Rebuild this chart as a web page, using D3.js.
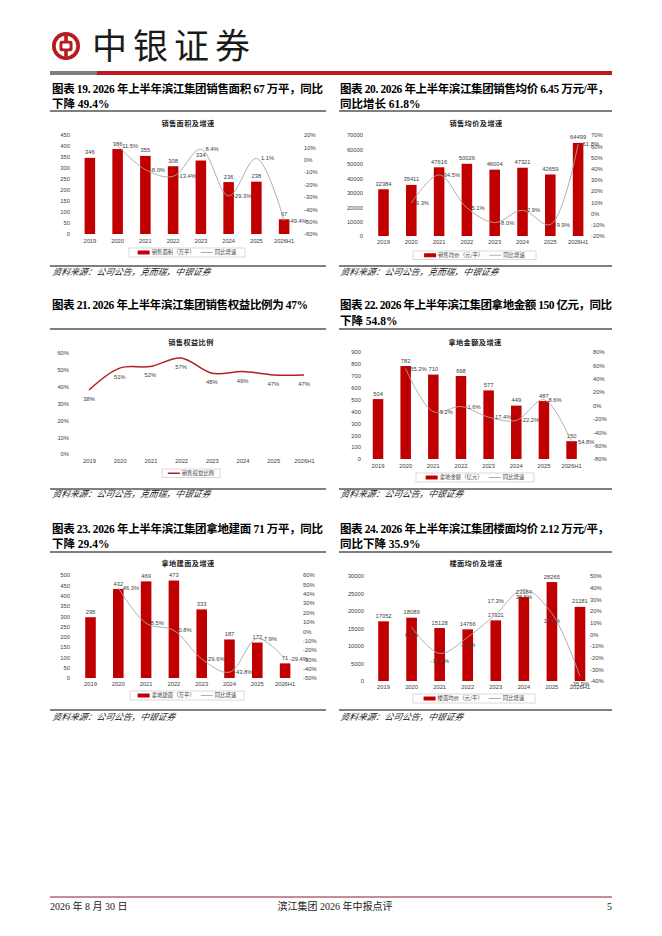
<!DOCTYPE html>
<html><head><meta charset="utf-8">
<script src="https://cdn.jsdelivr.net/npm/d3@7"></script>
<style>body{margin:0;background:#fff}</style>
</head><body><svg id="c" width="662" height="936"></svg>
<script>
// ---------------- DATA ----------------
const years = ["2019","2020","2021","2022","2023","2024","2025","2026H1"];

const salesArea      = [346, 386, 355, 308, 334, 236, 238, 67];
const salesAreaYoY   = [null, 11.5, -8.0, -13.4, 8.4, -29.3, 1.1, -49.4];
const salesPrice     = [32384, 35411, 47616, 50026, 46004, 47321, 42659, 64499];
const salesPriceYoY  = [null, 9.3, 34.5, 5.1, -8.0, 2.9, -9.9, 61.8];
const equityRatio    = [38, 51, 52, 57, 48, 49, 47, 47];
const landAmount     = [504, 782, 710, 698, 577, 449, 487, 150];
const landAmountYoY  = [null, 55.2, -9.2, -1.6, -17.4, -22.2, 8.6, -54.8];
const landArea       = [295, 432, 469, 473, 333, 187, 172, 71];
const landAreaYoY    = [null, 46.3, 8.5, 0.8, -29.6, -43.8, -7.9, -29.4];
const floorPrice     = [17052, 18089, 15128, 14766, 17321, 23984, 28265, 21181];
const floorPriceYoY  = [null, 6.1, -16.4, -2.4, 17.3, 38.5, 17.9, -35.9];

const ticks19L = [0,50,100,150,200,250,300,350,400,450];
const ticks19R = [-60,-50,-40,-30,-20,-10,0,10,20];
const ticks20L = [0,10000,20000,30000,40000,50000,60000,70000];
const ticks20R = [-20,-10,0,10,20,30,40,50,60,70];
const ticks21L = [0,10,20,30,40,50,60];
const ticks22L = [0,100,200,300,400,500,600,700,800,900];
const ticks22R = [-80,-60,-40,-20,0,20,40,60,80];
const ticks23L = [0,50,100,150,200,250,300,350,400,450,500];
const ticks23R = [-50,-40,-30,-20,-10,0,10,20,30,40,50,60];
const ticks24L = [0,5000,10000,15000,20000,25000,30000];
const ticks24R = [-40,-30,-20,-10,0,10,20,30,40,50];

const titles19 = ["图表 19. 2026 年上半年滨江集团销售面积 67 万平，同比", "下降 49.4%"];
const titles20 = ["图表 20. 2026 年上半年滨江集团销售均价 6.45 万元/平，", "同比增长 61.8%"];
const titles21 = ["图表 21. 2026 年上半年滨江集团销售权益比例为 47%"];
const titles22 = ["图表 22. 2026 年上半年滨江集团拿地金额 150 亿元，同比", "下降 54.8%"];
const titles23 = ["图表 23. 2026 年上半年滨江集团拿地建面 71 万平，同比", "下降 29.4%"];
const titles24 = ["图表 24. 2026 年上半年滨江集团楼面均价 2.12 万元/平，", "同比下降 35.9%"];
const src1 = "资料来源：公司公告，克而瑞，中银证券";
const src2 = "资料来源：公司公告，中银证券";

// ---------------- STYLE ----------------
const RED = "#C00000";
const GRAYLINE = "#A6A6A6";
const LBL = "#404040";
const SANS = "'Liberation Sans', Arial, 'Noto Sans CJK SC', sans-serif";
const SERIF = "'Liberation Serif', 'Times New Roman', 'Noto Sans CJK SC', serif";
const CJK = "'Noto Sans CJK SC', sans-serif";

const svg = d3.select("#c");
svg.append("rect").attr("width", 662).attr("height", 936).attr("fill", "#fff");

// ---------------- HEADER ----------------
const logo = svg.append("g").attr("transform", "translate(66,46)");
logo.append("circle").attr("r", 14).attr("fill", "#B81C22");
logo.append("circle").attr("r", 10.3).attr("fill", "#fff");
logo.append("rect").attr("x", -1.8).attr("y", -10.5).attr("width", 3.6).attr("height", 21).attr("fill", "#B81C22");
logo.append("rect").attr("x", -6.5).attr("y", -5.2).attr("width", 13).attr("height", 10.4).attr("rx", 2.2).attr("fill", "#B81C22");
logo.append("rect").attr("x", -3.6).attr("y", -2.4).attr("width", 7.2).attr("height", 4.8).attr("rx", 0.8).attr("fill", "#fff");
svg.append("text").attr("x", 92).attr("y", 59).attr("font-family", CJK).attr("font-size", 35)
  .attr("letter-spacing", 6).attr("fill", "#1a1a1a").text("中银证券");
svg.append("rect").attr("x", 50).attr("y", 71).attr("width", 47).attr("height", 4).attr("fill", "#7f7f7f");
svg.append("rect").attr("x", 97).attr("y", 71).attr("width", 515).attr("height", 4).attr("fill", "#B81C22");

// ---------------- FOOTER ----------------
svg.append("line").attr("x1", 50).attr("x2", 612).attr("y1", 897).attr("y2", 897)
  .attr("stroke", "#8B1A2B").attr("stroke-width", 1);
const ft = (x, anchor, t) => svg.append("text").attr("x", x).attr("y", 910).attr("text-anchor", anchor)
  .attr("font-family", SERIF).attr("font-size", 10).attr("fill", "#222").text(t);
ft(50, "start", "2026 年 8 月 30 日");
ft(335, "middle", "滨江集团 2026 年中报点评");
ft(612, "end", "5");

// ---------------- PANEL FRAME ----------------
function frame(p) {
  p.lines.forEach((t, i) => {
    const el = svg.append("text").attr("x", p.tx).attr("y", p.ty[i])
      .attr("font-family", SERIF).attr("font-size", 11.5).attr("font-weight", "bold").attr("fill", "#000").text(t);
    if (i === 0 && p.tl) el.attr("textLength", p.tl).attr("lengthAdjust", "spacing");
  });
  svg.append("line").attr("x1", p.x0).attr("x2", p.x1).attr("y1", p.sepTop).attr("y2", p.sepTop)
    .attr("stroke", "#000").attr("stroke-width", 1.2);
  svg.append("line").attr("x1", p.x0).attr("x2", p.x1).attr("y1", p.sepBot).attr("y2", p.sepBot)
    .attr("stroke", "#000").attr("stroke-width", 1);
  svg.append("text").attr("x", p.tx).attr("y", p.srcY).attr("font-family", CJK).attr("font-style", "italic")
    .attr("font-size", 8.8).attr("fill", "#222").attr("transform", null).text(p.src)
    .attr("transform", `skewX(-12) translate(${p.srcY * Math.tan(12 * Math.PI / 180)},0)`);
}

// ---------------- LEGEND ----------------
function legend(cfg, items) {
  const g = svg.append("g");
  g.append("rect").attr("x", cfg.x).attr("y", cfg.y).attr("width", cfg.w).attr("height", cfg.h)
    .attr("fill", "#fff").attr("stroke", "#BFBFBF").attr("stroke-width", 0.6);
  const cy = cfg.y + cfg.h / 2;
  const texts = items.map(it => g.append("text").attr("font-family", CJK).attr("font-size", 5.4)
    .attr("fill", LBL).attr("y", cy).attr("dy", "0.35em").text(it.text));
  const widths = texts.map(t => t.node().getComputedTextLength());
  const sw = 12, gap1 = 2, gap2 = 6;
  let total = 0;
  items.forEach((it, i) => { total += sw + gap1 + widths[i] + (i < items.length - 1 ? gap2 : 0); });
  let x = cfg.x + (cfg.w - total) / 2;
  items.forEach((it, i) => {
    if (it.type === "bar") {
      g.append("rect").attr("x", x).attr("y", cy - 2).attr("width", sw).attr("height", 4).attr("fill", it.color);
    } else {
      g.append("line").attr("x1", x).attr("x2", x + sw).attr("y1", cy).attr("y2", cy)
        .attr("stroke", it.color).attr("stroke-width", it.width || 0.9);
    }
    x += sw + gap1;
    texts[i].attr("x", x);
    x += widths[i] + gap2;
  });
}

function chartTitle(x, y, t) {
  svg.append("text").attr("x", x).attr("y", y).attr("dy", "0.35em").attr("text-anchor", "middle")
    .attr("font-family", CJK).attr("font-size", 7.2).attr("font-weight", "bold").attr("fill", "#222")
    .attr("letter-spacing", 0.4).text(t);
}

function styleAxis(g) {
  g.attr("font-family", SANS).attr("font-size", 5.8).attr("color", LBL);
  g.select(".domain").remove();
  g.selectAll(".tick line").remove();
}

// ---------------- COMBO (bar + yoy line) ----------------
function combo(c) {
  const x = d3.scaleBand().domain(years).range(c.xr).paddingInner(0).paddingOuter(0);
  const yl = d3.scaleLinear().domain([0, d3.max(c.lTicks)]).range([c.y0, c.y1]);
  const yr = d3.scaleLinear().domain([d3.min(c.rTicks), d3.max(c.rTicks)]).range([c.y0, c.y1]);
  const g = svg.append("g");

  chartTitle(c.titleX, c.titleY, c.title);

  styleAxis(g.append("g").attr("transform", `translate(${c.lx},0)`)
    .call(d3.axisLeft(yl).tickValues(c.lTicks).tickSize(0).tickPadding(0).tickFormat(d3.format("d"))));
  styleAxis(g.append("g").attr("transform", `translate(${c.rx},0)`)
    .call(d3.axisRight(yr).tickValues(c.rTicks).tickSize(0).tickPadding(0).tickFormat(d => d + "%")));
  styleAxis(g.append("g").attr("transform", `translate(0,${c.y0})`)
    .call(d3.axisBottom(x).tickSize(0).tickPadding(c.xPad)));

  const bw = x.bandwidth() * 0.38;
  const cx = d => x(d) + x.bandwidth() / 2;

  g.selectAll(".bar").data(years).join("rect")
    .attr("x", d => cx(d) - bw / 2).attr("width", bw)
    .attr("y", (d, i) => yl(c.bars[i])).attr("height", (d, i) => c.y0 - yl(c.bars[i]))
    .attr("fill", RED);

  g.selectAll(".blab").data(years).join("text")
    .attr("x", d => cx(d)).attr("y", (d, i) => yl(c.bars[i]) - 3.5)
    .attr("text-anchor", "middle").attr("font-family", SANS).attr("font-size", 5.8).attr("fill", LBL)
    .text((d, i) => c.bars[i]);

  const pts = years.map((d, i) => ({ d, v: c.yoy[i] })).filter(p => p.v != null);
  const line = d3.line().x(p => cx(p.d)).y(p => yr(p.v)).curve(d3.curveCatmullRom.alpha(0.5));
  g.append("path").attr("d", line(pts)).attr("fill", "none").attr("stroke", GRAYLINE).attr("stroke-width", 0.9);

  g.selectAll(".glab").data(pts).join("text")
    .each(function (p) {
      const place = (c.place && c.place[p.d]) || c.defPlace || "right";
      const el = d3.select(this);
      const px = cx(p.d), py = yr(p.v);
      if (place === "right") el.attr("x", px + 4.5).attr("y", py).attr("text-anchor", "start");
      else if (place === "below") el.attr("x", px).attr("y", py + 8).attr("text-anchor", "middle");
      else if (place === "above") el.attr("x", px).attr("y", py - 13).attr("text-anchor", "middle");
    })
    .attr("dy", "0.35em").attr("font-family", SANS).attr("font-size", 5.8).attr("fill", LBL)
    .text(p => p.v.toFixed(1) + "%");

  legend(c.legend, [
    { type: "bar", color: RED, text: c.legendText },
    { type: "line", color: GRAYLINE, text: "同比增速" }
  ]);
}

// ---------------- LINE CHART (equity ratio) ----------------
function lineChart(c) {
  const x = d3.scalePoint().domain(years).range(c.xr);
  const y = d3.scaleLinear().domain([0, d3.max(c.lTicks)]).range([c.y0, c.y1]);
  const g = svg.append("g");
  chartTitle(c.titleX, c.titleY, c.title);
  styleAxis(g.append("g").attr("transform", `translate(${c.lx},0)`)
    .call(d3.axisLeft(y).tickValues(c.lTicks).tickSize(0).tickPadding(0).tickFormat(d => d + "%")));
  styleAxis(g.append("g").attr("transform", `translate(0,${c.y0})`)
    .call(d3.axisBottom(x).tickSize(0).tickPadding(c.xPad)));
  const line = d3.line().x((d, i) => x(years[i])).y(d => y(d)).curve(d3.curveCatmullRom.alpha(0.5));
  g.append("path").attr("d", line(c.vals)).attr("fill", "none").attr("stroke", "#B01F24").attr("stroke-width", 1.5);
  g.selectAll(".lab").data(c.vals).join("text")
    .attr("x", (d, i) => x(years[i])).attr("y", d => y(d) + 9).attr("dy", "0.35em")
    .attr("text-anchor", "middle").attr("font-family", SANS).attr("font-size", 5.8).attr("fill", LBL)
    .text(d => d + "%");
  legend(c.legend, [{ type: "line", color: "#B01F24", width: 1.5, text: "销售权益比例" }]);
}

// ---------------- PANELS ----------------
frame({ lines: titles19, tx: 52, ty: [93, 108], tl: 271, x0: 50, x1: 326, sepTop: 111, sepBot: 266, srcY: 275, src: src1 });
frame({ lines: titles20, tx: 340, ty: [93, 108], tl: 269, x0: 339, x1: 612, sepTop: 111, sepBot: 266, srcY: 275, src: src1 });
frame({ lines: titles21, tx: 52, ty: [309], tl: 256, x0: 50, x1: 326, sepTop: 329, sepBot: 489, srcY: 497, src: src1 });
frame({ lines: titles22, tx: 340, ty: [309, 325], tl: 272, x0: 339, x1: 612, sepTop: 329, sepBot: 489, srcY: 497, src: src2 });
frame({ lines: titles23, tx: 52, ty: [533, 548], tl: 271, x0: 50, x1: 326, sepTop: 552, sepBot: 710, srcY: 720, src: src2 });
frame({ lines: titles24, tx: 340, ty: [533, 548], tl: 269, x0: 339, x1: 612, sepTop: 552, sepBot: 710, srcY: 720, src: src2 });

combo({ bars: salesArea, yoy: salesAreaYoY, lTicks: ticks19L, rTicks: ticks19R,
  xr: [76, 298], y0: 234, y1: 135, lx: 70, rx: 304, xPad: 4.9,
  title: "销售面积及增速", titleX: 188, titleY: 123,
  legend: { x: 129, y: 248, w: 116, h: 9 }, legendText: "销售面积（万平）" });

combo({ bars: salesPrice, yoy: salesPriceYoY, lTicks: ticks20L, rTicks: ticks20R,
  xr: [369.6, 592], y0: 236, y1: 135, lx: 363, rx: 591, xPad: 3.9,
  title: "销售均价及增速", titleX: 476, titleY: 123,
  legend: { x: 413, y: 251, w: 123, h: 8.5 }, legendText: "销售均价（元/平）" });

lineChart({ vals: equityRatio, lTicks: ticks21L, xr: [89, 304], y0: 454, y1: 353, lx: 69, xPad: 4.9,
  title: "销售权益比例", titleX: 191, titleY: 342,
  legend: { x: 162, y: 469, w: 58, h: 8.5 } });

combo({ bars: landAmount, yoy: landAmountYoY, lTicks: ticks22L, rTicks: ticks22R,
  xr: [364.2, 585.4], y0: 459, y1: 352, lx: 361, rx: 593, xPad: 4.9,
  title: "拿地金额及增速", titleX: 475, titleY: 342,
  legend: { x: 416, y: 473, w: 118, h: 9 }, legendText: "拿地金额（亿元）" });

combo({ bars: landArea, yoy: landAreaYoY, lTicks: ticks23L, rTicks: ticks23R,
  xr: [76.6, 299], y0: 678, y1: 575, lx: 70, rx: 303, xPad: 3.9,
  title: "拿地建面及增速", titleX: 188, titleY: 563,
  legend: { x: 130, y: 691, w: 114, h: 9 }, legendText: "拿地建面（万平）" });

combo({ bars: floorPrice, yoy: floorPriceYoY, lTicks: ticks24L, rTicks: ticks24R,
  xr: [369.5, 594], y0: 681, y1: 576, lx: 364, rx: 590, xPad: 3.9,
  title: "楼面均价及增速", titleX: 476, titleY: 563,
  defPlace: "below", place: { "2023": "above" },
  legend: { x: 413, y: 694, w: 122, h: 9 }, legendText: "楼面均价（元/平）" });
</script>
</body></html>
